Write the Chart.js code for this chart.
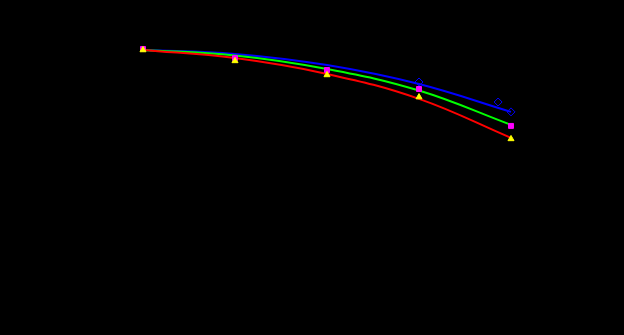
<!DOCTYPE html>
<html>
<head>
<meta charset="utf-8">
<script src="https://cdn.jsdelivr.net/npm/chart.js@4"></script>
<style>
  html, body { margin: 0; padding: 0; background: #000; }
  #wrap { width: 624px; height: 335px; position: relative; }
</style>
</head>
<body>
<div id="wrap"><canvas id="chart"></canvas></div>
<script>
// curve samples (x = step index, y = normalised value)
const X_STEPS    = [0, 1, 2, 3, 4];
const BLUE_LINE  = [1.000, 0.985, 0.942, 0.869, 0.762];
const GREEN_LINE = [1.000, 0.979, 0.927, 0.844, 0.712];
const RED_LINE   = [1.000, 0.969, 0.908, 0.812, 0.662];

// measured points
const SQUARE_X   = [0, 1, 2, 3, 4];
const SQUARE_Y   = [1.004, 0.969, 0.923, 0.850, 0.708];
const TRI_X      = [0, 1, 2, 3, 4];
const TRI_Y      = [1.000, 0.958, 0.904, 0.819, 0.658];
const DIAMOND_X  = [3, 3.86, 4];
const DIAMOND_Y  = [0.877, 0.800, 0.762];

const pts = (xs, ys) => xs.map((x, i) => ({ x, y: ys[i] }));

function lineSet(data, color) {
  return {
    type: "line",
    data: pts(X_STEPS, data),
    borderColor: color,
    borderWidth: 2,
    pointRadius: 0,
    tension: 0.4,
    fill: false,
    clip: false,
  };
}

function markerSet(xs, ys, style, color, fill, r) {
  return {
    type: "scatter",
    data: pts(xs, ys),
    pointStyle: style,
    pointRadius: r,
    pointBorderColor: color,
    pointBackgroundColor: fill,
    pointBorderWidth: 1,
    showLine: false,
    clip: false,
  };
}

new Chart(document.getElementById("chart"), {
  type: "scatter",
  data: {
    datasets: [
      markerSet(DIAMOND_X, DIAMOND_Y, "rectRot", "#0000ff", "rgba(0,0,0,0)", 4),
      markerSet(TRI_X, TRI_Y, "triangle", "#ffff00", "#ffff00", 3.5),
      markerSet(SQUARE_X, SQUARE_Y, "rect", "#ff00ff", "#ff00ff", 3.5),
      lineSet(RED_LINE, "#ff0000"),
      lineSet(GREEN_LINE, "#00ff00"),
      lineSet(BLUE_LINE, "#0000ff"),
    ],
  },
  options: {
    responsive: true,
    maintainAspectRatio: false,
    animation: false,
    layout: { padding: { left: 143, right: 113, top: 50, bottom: 25 } },
    plugins: { legend: { display: false }, tooltip: { enabled: false } },
    scales: {
      x: { type: "linear", min: 0, max: 4, display: false },
      y: { type: "linear", min: 0, max: 1, display: false },
    },
  },
});
</script>
</body>
</html>
